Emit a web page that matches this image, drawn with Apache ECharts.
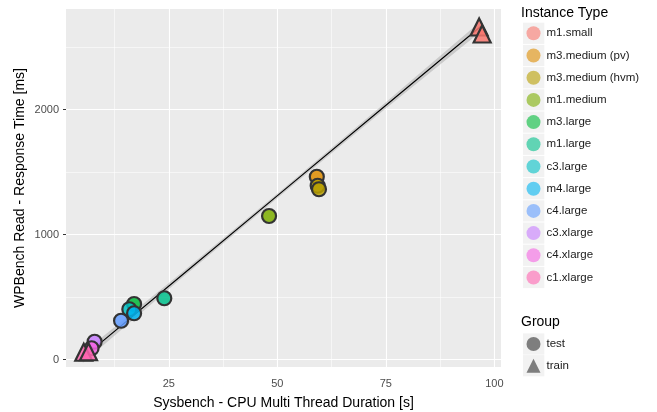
<!DOCTYPE html>
<html>
<head>
<meta charset="utf-8">
<script src="https://cdn.jsdelivr.net/npm/echarts@6/dist/echarts.min.js"></script>
<style>html,body{margin:0;padding:0;background:#fff}#c{width:657px;height:412px}</style>
</head>
<body>
<div id="c"></div>
<script>
// ---- data ----
const instanceTypes = ['m1.small','m3.medium (pv)','m3.medium (hvm)','m1.medium','m3.large','m1.large','c3.large','m4.large','c4.large','c3.xlarge','c4.xlarge','c1.xlarge'];
const groups = ['test','train'];
const pointInstance = ['m1.small','m1.small','m3.medium (pv)','m3.medium (hvm)','m3.medium (hvm)','m1.medium','m3.large','m1.large','c3.large','m4.large','c4.large','c3.xlarge','c4.xlarge','c1.xlarge','c1.xlarge'];
const pointGroup    = ['train','train','test','test','test','test','test','test','test','test','test','test','test','train','train'];
const pointX        = [96.5, 97.2, 59.1, 59.3, 59.6, 48.1, 17.0, 23.96, 15.9, 17.0, 14.0, 7.9, 7.2, 5.4, 6.5];
const pointY        = [2660, 2604, 1462, 1390, 1362, 1148, 444, 490, 402, 370, 310, 142, 90, 58, 62];
const smoothX  = [5.2, 28, 51, 74, 97.2];
const smoothY  = [15, 674, 1339, 2004, 2674];
const smoothLo = [-25, 652, 1321, 1980, 2632];
const smoothHi = [55, 696, 1357, 2028, 2716];
const xTicks = [25, 50, 75, 100];
const yTicks = [0, 1000, 2000];
const xMinor = [12.5, 37.5, 62.5, 87.5];
const yMinor = [500, 1500, 2500];

// ---- style ----
const palette = ['#F8766D','#DE8C00','#B79F00','#7CAE00','#00BA38','#00C08B','#00BFC4','#00B4F0','#619CFF','#C77CFF','#F564E3','#FF64B0'];
function rgba(hex, a){const n=parseInt(hex.slice(1),16);return 'rgba('+(n>>16)+','+((n>>8)&255)+','+(n&255)+','+a+')';}
const FONT = '"Liberation Sans", Arial, sans-serif';

const chart = echarts.init(document.getElementById('c'), null, {renderer:'canvas'});

const series = [];
// grid lines
const gridMarks = [];
xTicks.forEach(v=>gridMarks.push({xAxis:v, lineStyle:{color:'#fff', width:1.1, type:'solid'}}));
xMinor.forEach(v=>gridMarks.push({xAxis:v, lineStyle:{color:'#fff', width:0.55, type:'solid'}}));
yTicks.forEach(v=>gridMarks.push({yAxis:v, lineStyle:{color:'#fff', width:1.1, type:'solid'}}));
yMinor.forEach(v=>gridMarks.push({yAxis:v, lineStyle:{color:'#fff', width:0.55, type:'solid'}}));

// confidence band (polygon through hi then reversed lo)
series.push({
  type:'custom', name:'_band', z:2, silent:true, clip:true, animation:false,
  data: smoothX.map((x,i)=>[x, smoothLo[i], smoothHi[i]]),
  renderItem: function(params, api){
    if(params.dataIndex!==0) return null;
    const pts = [];
    for(let i=0;i<smoothX.length;i++) pts.push(api.coord([smoothX[i], smoothHi[i]]));
    for(let i=smoothX.length-1;i>=0;i--) pts.push(api.coord([smoothX[i], smoothLo[i]]));
    return {type:'polygon', shape:{points:pts}, style:{fill:'rgba(153,153,153,0.4)'}};
  },
  markLine:{silent:true, z:1, symbol:['none','none'], label:{show:false}, animation:false, data:gridMarks}
});
series.push({
  type:'line', name:'_smooth', z:3, silent:true, symbol:'none',
  data: smoothX.map((x,i)=>[x, smoothY[i]]),
  lineStyle:{color:'#000', width:1.1}, animation:false
});

instanceTypes.forEach((name, k)=>{
  const data = [];
  pointInstance.forEach((p,i)=>{
    if(p!==name) return;
    const tri = pointGroup[i]==='train';
    data.push({value:[pointX[i], pointY[i]], symbol: tri?'triangle':'circle', symbolSize: tri?17:14});
  });
  series.push({
    type:'scatter', name:name, z:4, data:data, animation:false,
    itemStyle:{color: rgba(palette[k],0.85), borderColor:'#333333', borderWidth:2.2, opacity:1}
  });
});
// group legend dummies
series.push({type:'scatter', name:'test', data:[], symbol:'circle', itemStyle:{color:'#606060'}});
series.push({type:'scatter', name:'train', data:[], symbol:'triangle', itemStyle:{color:'#606060'}});

// legend key backgrounds
const graphics = [];
const step1 = 22.2, first1 = 33.3;
instanceTypes.forEach((n,i)=>{
  graphics.push({type:'rect', left:523, top:first1+i*step1-10.6, shape:{width:21.3, height:21.2}, style:{fill:'#F2F2F2'}, silent:true, z:-1});
});
const step2 = 21.7, first2 = 344;
groups.forEach((n,i)=>{
  graphics.push({type:'rect', left:523, top:first2+i*step2-10.6, shape:{width:21.3, height:21.2}, style:{fill:'#F2F2F2'}, silent:true, z:-1});
});
graphics.push({type:'text', left:521, top:6, style:{text:'Instance Type', font:'14px '+FONT, fill:'#000'}});
graphics.push({type:'text', left:521, top:315, style:{text:'Group', font:'14px '+FONT, fill:'#000'}});

const plain = v => String(v);

const option = {
  animation:false,
  backgroundColor:'#fff',
  textStyle:{fontFamily:FONT},
  grid:{left:66, right:156, top:9, bottom:45, show:true, backgroundColor:'#EBEBEB', borderWidth:0, outerBoundsMode:'none', containLabel:false},
  xAxis:{
    type:'value', min:1.31, max:101.54,
    name:'Sysbench - CPU Multi Thread Duration [s]', nameLocation:'middle', nameGap:29, nameMoveOverlap:false,
    nameTextStyle:{fontSize:14, color:'#000', fontFamily:FONT},
    axisLine:{show:false},
    axisTick:{show:true, length:3, customValues:xTicks, lineStyle:{color:'#333', width:1}},
    axisLabel:{customValues:xTicks, formatter:plain, color:'#4D4D4D', fontSize:11, margin:11, fontFamily:FONT},
    splitLine:{show:false}
  },
  yAxis:{
    type:'value', min:-60, max:2804,
    name:'WPBench Read - Response Time [ms]', nameLocation:'middle', nameGap:39, nameRotate:90, nameMoveOverlap:false,
    nameTextStyle:{fontSize:14, color:'#000', fontFamily:FONT},
    axisLine:{show:false},
    axisTick:{show:true, length:3, customValues:yTicks, lineStyle:{color:'#333', width:1}},
    axisLabel:{customValues:yTicks, formatter:plain, color:'#4D4D4D', fontSize:11, margin:7, fontFamily:FONT},
    splitLine:{show:false}
  },
  legend:[
    {
      orient:'vertical', left:526.5, top:first1-7, padding:0, itemWidth:14, itemHeight:14, itemGap:step1-14,
      icon:'circle', selectedMode:false,
      textStyle:{fontSize:11.5, color:'#1a1a1a', fontFamily:FONT, padding:[0,0,0,1]},
      data: instanceTypes.map((n,k)=>({name:n, icon:'circle', itemStyle:{color:rgba(palette[k],0.6), borderWidth:0, opacity:1}}))
    },
    {
      orient:'vertical', left:526.5, top:first2-7, padding:0, itemWidth:14, itemHeight:14, itemGap:step2-14,
      selectedMode:false,
      textStyle:{fontSize:11.5, color:'#1a1a1a', fontFamily:FONT, padding:[0,0,0,1]},
      data:[{name:'test', icon:'circle', itemStyle:{color:'#606060', borderWidth:0}},
            {name:'train', icon:'triangle', itemStyle:{color:'#606060', borderWidth:0}}]
    }
  ],
  graphic: graphics,
  series: series
};
chart.setOption(option);
</script>
</body>
</html>
